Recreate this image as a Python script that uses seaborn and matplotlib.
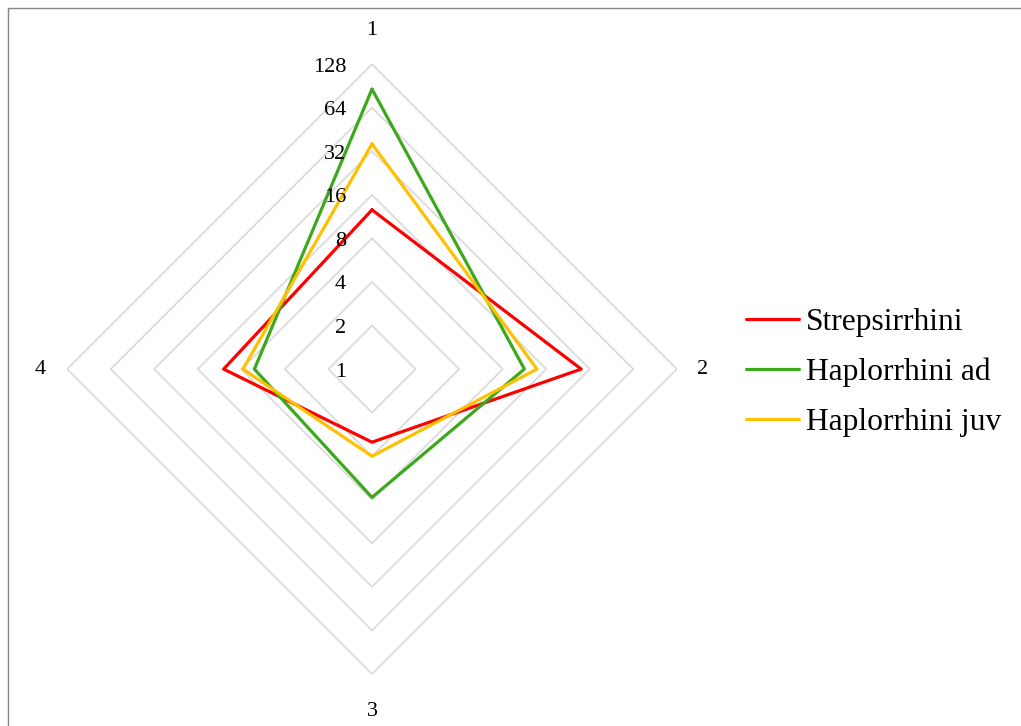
import numpy as np
import pandas as pd
import matplotlib.pyplot as plt
from matplotlib.lines import Line2D
from matplotlib.transforms import offset_copy
import seaborn as sns

sns.set_style("white")
plt.rcParams['font.family'] = ['Liberation Serif', 'DejaVu Serif']
plt.rcParams['text.color'] = 'black'

# data (log2 radial scale)
axes_labels = ["1", "2", "3", "4"]
strepsirrhini = [12.6, 27.9, 3.2, 10.6]
haplorrhini_ad = [86, 11.3, 7.7, 6.5]
haplorrhini_juv = [36, 13.8, 4.0, 7.8]
ring_values = [1, 2, 4, 8, 16, 32, 64, 128]

series = {"Strepsirrhini": strepsirrhini,
          "Haplorrhini ad": haplorrhini_ad,
          "Haplorrhini juv": haplorrhini_juv}
colors = ["#FF0000", "#3DA81C", "#FFC000"]

angles = np.linspace(0, 2 * np.pi, len(axes_labels), endpoint=False)
closed = np.append(angles, 2 * np.pi)

rows = []
for name, vals in series.items():
    for a, v in zip(closed, vals + vals[:1]):
        rows.append({"angle": a, "value": v, "series": name})
df = pd.DataFrame(rows)

fig = plt.figure(figsize=(10.21, 7.26), dpi=100)
ax = fig.add_axes([0.0656, 0.0716, 0.5975, 0.840], projection="polar")
ax.set_theta_zero_location("N")
ax.set_theta_direction(-1)
ax.set_rscale("log", base=2)
ax.set_rlim(1, 128)

# diamond grid
for rv in ring_values[1:]:
    ax.plot(closed, [rv] * len(closed), color="#D9D9D9", lw=1.2, zorder=1)

sns.lineplot(data=df, x="angle", y="value", hue="series", palette=colors,
             sort=False, estimator=None, lw=2.3, ax=ax, legend=True, zorder=3)

ax.grid(False)
ax.spines["polar"].set_visible(False)
ax.set_xticks([])
ax.set_yticks([])
ax.set_xlabel("")
ax.set_ylabel("")
ax.patch.set_alpha(0)

# radial labels
tr = offset_copy(ax.transData, fig=fig, x=-26, y=-3, units="dots")
for rv in ring_values:
    ax.text(0, rv, str(rv), transform=tr, ha="right", va="center", fontsize=16)

# category labels
label_exp = [7.78, 7.6, 7.85, 7.62]
for a, lab, e in zip(angles, axes_labels, label_exp):
    ax.text(a, 2 ** e, lab, ha="center", va="center", fontsize=16)

handles, labels = ax.get_legend_handles_labels()
ax.get_legend().remove()
fig.legend(handles, labels, loc="center left", bbox_to_anchor=(0.7025, 0.487),
           frameon=False, fontsize=22.7, handlelength=1.7, handletextpad=0.2,
           labelspacing=0.66)

# chart-area border (top and left)
fig.add_artist(Line2D([8 / 1021, 1], [1 - 8 / 726, 1 - 8 / 726], color="#888888", lw=1))
fig.add_artist(Line2D([8 / 1021, 8 / 1021], [0, 1 - 8 / 726], color="#888888", lw=1))

fig.savefig("out.png", dpi=100)
